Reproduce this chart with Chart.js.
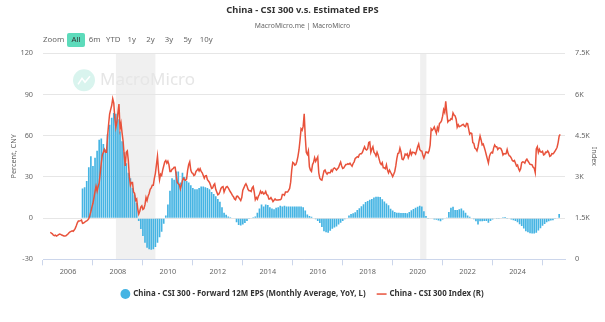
<!DOCTYPE html>
<html>
<head>
<meta charset="utf-8">
<script src="https://cdn.jsdelivr.net/npm/chart.js@4.4.1/dist/chart.umd.min.js"></script>
<style>
  html, body { margin: 0; padding: 0; background: #fff; }
</style>
</head>
<body>
<canvas id="chart" width="605" height="322"></canvas>
<script>
// EPS forward 12M, monthly average YoY (%), first bar Aug 2006
const epsStart = { year: 2006, month: 8 };
const epsYoY = [
  21.5, 22.5, 27, 37, 45,
  38, 44, 49, 57, 58, 54, 50, 61, 68, 73, 76.5, 76,
  72, 63, 56, 48, 40, 33, 29, 22, 17, 11, -2, -8,
  -13, -18, -21.5, -22.7, -23, -22.7, -21, -18, -14, -10, -4, 2,
  10, 20, 29, 28, 34, 34, 26, 33, 30, 27, 26, 24,
  22, 21, 21, 22, 23, 23, 22.5, 22, 21, 19, 17.5, 16,
  14, 12, 8, 4, 2.5, 1.2, 0.6, 0.2, -0.5, -3, -5, -5.4,
  -4.6, -3.5, -2, -0.6, 0.3, 0.6, 1.2, 4, 7, 10, 8.5, 10,
  9.5, 8, 7, 6.5, 7.5, 8, 9, 8.5, 9, 8.5, 8.5, 8.5,
  8.5, 8.5, 8.5, 8.5, 8.5, 8, 5.5, 2.7, 1.5, 1, 0.3, -0.8,
  -2, -3.5, -6.5, -9.5, -10.3, -10.7, -9.2, -7.8, -6.8, -6, -4.7, -3.4,
  -2, -0.8, 0.3, 2, 3.1, 3.6, 4.2, 6, 7.2, 8.7, 10.2, 11.7,
  12.4, 13.3, 14, 15, 15.6, 15.6, 15.3, 13.7, 12.2, 10.7, 9.4, 6.8,
  5.5, 4.4, 4, 4, 3.8, 3.8, 3.8, 3.5, 4.5, 5.8, 6.6, 7.6,
  8.3, 9, 8.5, 5, 1.5, -0.2, -0.5, -0.5, -1, -1.2, -1.8, -2.2,
  -1, 0.2, 0.5, 4.5, 7.5, 8.3, 6, 6, 6.5, 7, 5.5, 4,
  2, 1, 0.2, -0.8, -2.2, -4.6, -2.2, -2.2, -2, -2, -3.4, -2,
  -1, -0.5, -0.7, -0.3, 0.3, 0.7, 0.8, -0.3, -0.5, -1, -1.5, -2,
  -3, -4.5, -5.8, -7.5, -9.5, -10.3, -11, -11.2, -11.2, -10.7, -9, -7.3,
  -5.5, -4.2, -3, -2.2, -1.8, -1.5, -0.7, -0.5, 3
];

// CSI 300 index, two readings a month (mid, end), first one mid Apr 2005
const csiStart = { year: 2005, month: 4 };
const csi300 = [
  985, 955, 930, 880, 860, 880, 850, 870, 900, 920, 910, 885, 870, 850, 850, 860, 890, 923,
  970, 1000, 1020, 1040, 1020, 1070, 1130, 1220, 1330, 1400, 1400, 1410, 1430, 1310, 1320, 1350, 1380, 1400, 1430, 1480, 1600, 1740, 1900, 2040,
  2250, 2470, 2660, 2480, 2650, 2780, 3150, 3500, 3800, 3900, 4000, 3900, 3900, 4470, 4900, 5290, 5450, 5600, 5850, 5690, 5150, 4800, 5000, 5340,
  5650, 4750, 4950, 4600, 4300, 3800, 3400, 3900, 3950, 3600, 3000, 2700, 2800, 2800, 2450, 2400, 2150, 2200, 1850, 1650, 1750, 1900, 1950, 1820,
  1850, 1990, 2250, 2140, 2300, 2400, 2550, 2600, 2700, 2700, 2950, 3130, 3450, 3750, 3250, 2900, 3100, 3050, 3250, 3400, 3550, 3600, 3500, 3575,
  3450, 3200, 3200, 3280, 3300, 3350, 3350, 3070, 2800, 2750, 2720, 2560, 2700, 2870, 2950, 2900, 2880, 2930, 3250, 3450, 3550, 3250, 3150, 3130,
  3050, 3080, 3200, 3240, 3300, 3220, 3300, 3200, 3150, 3050, 2950, 3040, 3050, 2900, 2850, 2800, 2700, 2580, 2600, 2700, 2750, 2550, 2450, 2350,
  2380, 2460, 2580, 2630, 2650, 2450, 2550, 2630, 2650, 2600, 2530, 2460, 2400, 2330, 2280, 2200, 2170, 2290, 2300, 2250, 2200, 2140, 2250, 2520,
  2600, 2690, 2750, 2670, 2550, 2500, 2500, 2470, 2600, 2650, 2450, 2170, 2250, 2190, 2300, 2370, 2480, 2410, 2450, 2380, 2400, 2470, 2350, 2330,
  2200, 2200, 2250, 2180, 2100, 2150, 2200, 2160, 2160, 2160, 2170, 2170, 2200, 2360, 2360, 2330, 2450, 2450, 2450, 2510, 2580, 2810, 3250, 3530,
  3500, 3430, 3450, 3570, 3750, 3990, 4350, 4750, 4700, 4840, 5300, 4470, 3900, 3820, 3950, 3370, 3250, 3200, 3450, 3530, 3700, 3570, 3650, 3730,
  3150, 2950, 2900, 2880, 3050, 3220, 3250, 3160, 3100, 3160, 3150, 3150, 3250, 3200, 3300, 3330, 3300, 3250, 3300, 3340, 3450, 3540, 3400, 3310,
  3330, 3390, 3450, 3450, 3480, 3460, 3500, 3440, 3390, 3490, 3550, 3670, 3700, 3740, 3720, 3820, 3840, 3840, 3900, 4010, 4100, 4010, 3980, 4030,
  4250, 4270, 3900, 4020, 4100, 3900, 3850, 3760, 3900, 3800, 3650, 3510, 3450, 3520, 3330, 3330, 3300, 3440, 3250, 3150, 3250, 3170, 3100, 3010,
  3100, 3200, 3400, 3670, 3850, 3870, 4050, 3910, 3650, 3630, 3700, 3830, 3800, 3840, 3700, 3800, 3950, 3810, 3900, 3890, 3880, 3830, 3950, 4100,
  4200, 4000, 3950, 3940, 3800, 3690, 3800, 3910, 3900, 3870, 3950, 4160, 4750, 4700, 4750, 4820, 4700, 4590, 4800, 4700, 4950, 4980, 5050, 5210,
  5450, 5350, 5750, 5340, 5000, 5050, 5050, 5120, 5100, 5330, 5250, 5220, 5100, 4810, 4900, 4830, 4850, 4870, 4900, 4910, 4850, 4830, 4950, 4940,
  4750, 4560, 4600, 4580, 4250, 4220, 4050, 4020, 3950, 4090, 4300, 4490, 4350, 4170, 4200, 4080, 3950, 3800, 3650, 3510, 3750, 3850, 3900, 3870,
  4050, 4160, 4100, 4100, 4000, 4050, 4050, 4030, 3950, 3800, 3850, 3840, 3850, 4000, 3850, 3770, 3750, 3690, 3600, 3570, 3600, 3500, 3400, 3430,
  3300, 3220, 3300, 3520, 3550, 3540, 3500, 3600, 3650, 3580, 3520, 3460, 3450, 3440, 3350, 3320, 3160, 4020, 4100, 3890, 4000, 3910, 3900, 3930,
  3800, 3820, 3900, 3890, 3950, 3890, 3750, 3770, 3850, 3840, 3880, 3940, 4000, 4080, 4250, 4490, 4550
];

const xTicks = [2006, 2008, 2010, 2012, 2014, 2016, 2018, 2020, 2022, 2024];
const leftTicks = [-30, 0, 30, 60, 90, 120];
const rightTicks = [0, 1500, 3000, 4500, 6000, 7500];
const recessions = [[2007.92, 2009.5], [2020.1, 2020.35]];
const rangeButtons = ['All', '6m', 'YTD', '1y', '2y', '3y', '5y', '10y'];

const FONT = '"Noto Sans", "DejaVu Sans", sans-serif';

const epsPoints = epsYoY.map((v, i) => ({
  x: epsStart.year + (epsStart.month - 1 + i) / 12,
  y: v
}));
const csiPoints = csi300.map((v, i) => ({
  x: csiStart.year + (csiStart.month - 1) / 12 + (i + 1) / 24,
  y: v
}));

function kLabel(v) {
  if (v === 0) return '0';
  return (v / 1000) + 'K';
}

const decor = {
  id: 'decor',
  beforeDraw(chart) {
    const { ctx, chartArea, scales } = chart;
    ctx.save();
    ctx.fillStyle = '#f0f0f0';
    recessions.forEach(([a, b]) => {
      const x0 = scales.x.getPixelForValue(a);
      const x1 = scales.x.getPixelForValue(b);
      ctx.fillRect(x0, chartArea.top, x1 - x0, chartArea.bottom - chartArea.top);
    });

    // watermark
    const cx = chartArea.left + 41, cy = chartArea.top + 27;
    ctx.fillStyle = '#d9f4ee';
    ctx.beginPath();
    ctx.arc(cx, cy, 11, 0, Math.PI * 2);
    ctx.fill();
    ctx.strokeStyle = '#ffffff';
    ctx.lineWidth = 1.5;
    ctx.beginPath();
    ctx.moveTo(cx - 6, cy + 4);
    ctx.lineTo(cx - 2, cy - 2);
    ctx.lineTo(cx + 1, cy + 2);
    ctx.lineTo(cx + 6, cy - 4);
    ctx.stroke();
    ctx.fillStyle = '#e6e6e6';
    ctx.font = '17px ' + FONT;
    ctx.textBaseline = 'middle';
    ctx.textAlign = 'left';
    ctx.fillText('MacroMicro', cx + 16, cy);
    ctx.restore();
  },
  afterDraw(chart) {
    const { ctx } = chart;
    ctx.save();
    ctx.font = '7.8px ' + FONT;
    ctx.textBaseline = 'middle';
    ctx.textAlign = 'left';
    ctx.fillStyle = '#666';
    ctx.fillText('Zoom', 43, 40);
    ctx.textAlign = 'center';
    rangeButtons.forEach((t, i) => {
      const bx = 76 + i * 18.6;
      if (i === 0) {
        ctx.fillStyle = '#5ddbbb';
        ctx.beginPath();
        ctx.roundRect(bx - 9, 33, 18, 14, 2);
        ctx.fill();
        ctx.fillStyle = '#333';
      } else {
        ctx.fillStyle = '#666';
      }
      ctx.fillText(t, bx, 40);
    });
    ctx.restore();
  }
};

new Chart(document.getElementById('chart').getContext('2d'), {
  type: 'bar',
  data: {
    datasets: [
      {
        type: 'line',
        label: 'China - CSI 300 Index (R)',
        data: csiPoints,
        yAxisID: 'y1',
        borderColor: '#e8523b',
        backgroundColor: '#e8523b',
        borderWidth: 1.5,
        pointRadius: 0,
        tension: 0,
        order: 0
      },
      {
        type: 'bar',
        label: 'China - CSI 300 - Forward 12M EPS (Monthly Average, YoY, L)',
        data: epsPoints,
        yAxisID: 'y',
        backgroundColor: '#45b4e3',
        borderWidth: 0,
        barPercentage: 0.8,
        categoryPercentage: 1,
        order: 1
      }
    ]
  },
  options: {
    responsive: false,
    animation: false,
    layout: { padding: { left: 0, right: 0, top: 0, bottom: 14 } },
    plugins: {
      title: {
        display: true,
        text: 'China - CSI 300 v.s. Estimated EPS',
        color: '#333',
        font: { family: FONT, size: 9.3, weight: 'bold' },
        padding: { top: 5, bottom: 6 }
      },
      subtitle: {
        display: true,
        text: 'MacroMicro.me | MacroMicro',
        color: '#666',
        font: { family: FONT, size: 6.8 },
        padding: { bottom: 23 }
      },
      legend: {
        position: 'bottom',
        reverse: true,
        labels: {
          color: '#333',
          font: { family: FONT, size: 7.9, weight: 'bold' },
          usePointStyle: true,
          boxWidth: 8,
          boxHeight: 7,
          padding: 12,
          generateLabels(chart) {
            const items = Chart.defaults.plugins.legend.labels.generateLabels(chart);
            items.forEach(it => {
              const ds = chart.data.datasets[it.datasetIndex];
              it.pointStyle = ds.type === 'line' ? 'line' : 'circle';
              it.fillStyle = ds.type === 'line' ? '#e8523b' : '#45b4e3';
              it.strokeStyle = ds.type === 'line' ? '#e8523b' : '#45b4e3';
            });
            return items;
          }
        }
      },
      tooltip: { enabled: false }
    },
    scales: {
      x: {
        type: 'linear',
        offset: false,
        min: 2005,
        max: 2025.9,
        afterBuildTicks: s => { s.ticks = xTicks.map(v => ({ value: v })); },
        ticks: {
          color: '#666',
          font: { family: FONT, size: 7.3 },
          padding: 2,
          maxRotation: 0,
          callback: v => String(v)
        },
        grid: { drawOnChartArea: false, tickLength: 6, color: '#ccd6eb' },
        border: { display: true, color: '#ccd6eb' }
      },
      y: {
        position: 'left',
        min: -30,
        max: 120,
        afterBuildTicks: s => { s.ticks = leftTicks.map(v => ({ value: v })); },
        afterFit: s => { s.width = 43; },
        ticks: { color: '#666', font: { family: FONT, size: 7.3 }, padding: 10 },
        grid: { color: '#e6e6e6', drawTicks: false },
        border: { display: false },
        title: {
          display: true,
          text: 'Percent, CNY',
          color: '#666',
          font: { family: FONT, size: 7.3 },
          padding: { top: 10, bottom: 0 }
        }
      },
      y1: {
        position: 'right',
        min: 0,
        max: 7500,
        afterBuildTicks: s => { s.ticks = rightTicks.map(v => ({ value: v })); },
        afterFit: s => { s.width = 40; },
        ticks: { color: '#666', font: { family: FONT, size: 7.3 }, padding: 10, callback: kLabel },
        grid: { drawOnChartArea: false, drawTicks: false },
        border: { display: false },
        title: {
          display: true,
          text: 'Index',
          color: '#666',
          font: { family: FONT, size: 7.3 },
          padding: { top: 7, bottom: 0 }
        }
      }
    }
  },
  plugins: [decor]
});
</script>
</body>
</html>
